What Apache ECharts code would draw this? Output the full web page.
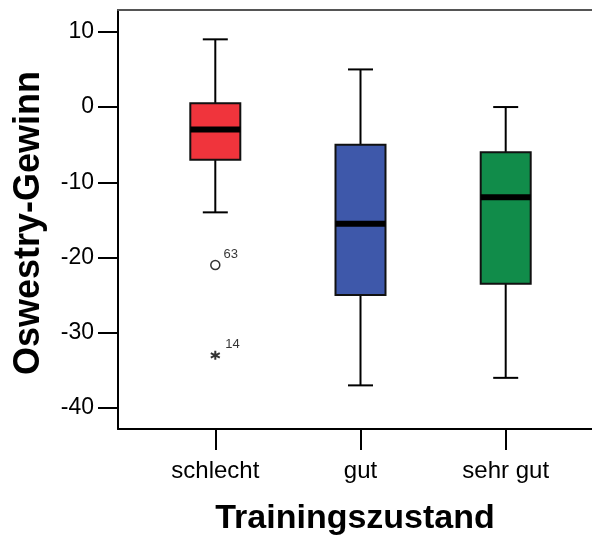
<!DOCTYPE html>
<html>
<head>
<meta charset="utf-8">
<script src="https://cdn.jsdelivr.net/npm/echarts@6/dist/echarts.min.js"></script>
<style>html,body{margin:0;padding:0;background:#fff}#c{width:592px;height:535px}</style>
</head>
<body>
<div id="c"></div>
<script>
var categories = ['schlecht', 'gut', 'sehr gut'];
var whiskerLow = [-14, -37, -36];
var q1 = [-7, -25, -23.5];
var median = [-3, -15.5, -12];
var q3 = [0.5, -5, -6];
var whiskerHigh = [9, 5, 0];
var boxColors = ['#F0343C', '#3E58AA', '#118C4A'];
var yTicks = [-40, -30, -20, -10, 0, 10];
var outlierCat = ['schlecht', 'schlecht'];
var outlierVal = [-21, -33];
var outlierId = ['63', '14'];
var outlierKind = ['circle', 'star'];

var boxData = categories.map(function (c, i) {
  return [i, whiskerLow[i], q1[i], median[i], q3[i], whiskerHigh[i]];
});

var yMin = -42.8, yMax = 12.9;
var font = 'Liberation Sans, Arial, Helvetica, sans-serif';

function renderBox(params, api) {
  var x = api.value(0);
  var pLow = api.coord([x, api.value(1)]);
  var pQ1 = api.coord([x, api.value(2)]);
  var pMed = api.coord([x, api.value(3)]);
  var pQ3 = api.coord([x, api.value(4)]);
  var pHigh = api.coord([x, api.value(5)]);
  var cx = pMed[0];
  var bw = 50, cw = 25;
  var lineStyle = { stroke: '#000', lineWidth: 2 };
  return {
    type: 'group',
    children: [
      { type: 'line', shape: { x1: cx, y1: pHigh[1], x2: cx, y2: pQ3[1] }, style: lineStyle },
      { type: 'line', shape: { x1: cx, y1: pQ1[1], x2: cx, y2: pLow[1] }, style: lineStyle },
      { type: 'line', shape: { x1: cx - cw / 2, y1: pHigh[1], x2: cx + cw / 2, y2: pHigh[1] }, style: lineStyle },
      { type: 'line', shape: { x1: cx - cw / 2, y1: pLow[1], x2: cx + cw / 2, y2: pLow[1] }, style: lineStyle },
      { type: 'rect', shape: { x: cx - bw / 2, y: pQ3[1], width: bw, height: pQ1[1] - pQ3[1] },
        style: { fill: boxColors[params.dataIndex], stroke: '#111', lineWidth: 2 } },
      { type: 'line', shape: { x1: cx - bw / 2, y1: pMed[1], x2: cx + bw / 2, y2: pMed[1] },
        style: { stroke: '#000', lineWidth: 6 } }
    ]
  };
}

var circleData = [], starData = [];
outlierCat.forEach(function (c, i) {
  var d = { value: [c, outlierVal[i]], name: outlierId[i] };
  if (outlierKind[i] === 'circle') circleData.push(d); else starData.push(d);
});

var outlierLabel = {
  show: true, formatter: '{b}', position: 'right', offset: [-2, -11],
  fontSize: 13, color: '#000', fontFamily: font
};

var chart = echarts.init(document.getElementById('c'), null, { renderer: 'canvas' });
chart.setOption({
  animation: false,
  backgroundColor: '#fff',
  grid: [
    { left: 118, right: 0, top: 10, bottom: 106, outerBoundsMode: 'none', containLabel: false },
    { left: 142.7, right: 13.7, top: 10, bottom: 106, outerBoundsMode: 'none', containLabel: false }
  ],
  xAxis: [
    { type: 'value', gridIndex: 0, position: 'bottom', min: 0, max: 1,
      axisLine: { show: true, onZero: false, lineStyle: { color: '#000', width: 2 } },
      axisTick: { show: false }, axisLabel: { show: false }, splitLine: { show: false },
      name: 'Trainingszustand', nameLocation: 'middle', nameGap: 73,
      nameTextStyle: { fontSize: 34, fontWeight: 'bold', color: '#000', fontFamily: font } },
    { type: 'value', gridIndex: 0, position: 'top', min: 0, max: 1,
      axisLine: { show: true, onZero: false, lineStyle: { color: '#555', width: 2 } },
      axisTick: { show: false }, axisLabel: { show: false }, splitLine: { show: false } },
    { type: 'category', gridIndex: 1, data: categories, boundaryGap: true, position: 'bottom',
      axisLine: { show: false, onZero: false },
      axisTick: { show: true, alignWithLabel: true, length: 21, lineStyle: { color: '#000', width: 2 } },
      axisLabel: { fontSize: 24, color: '#000', margin: 30, fontFamily: font },
      splitLine: { show: false } }
  ],
  yAxis: [
    { type: 'value', gridIndex: 0, min: yMin, max: yMax,
      axisLine: { show: true, onZero: false, lineStyle: { color: '#000', width: 2 } },
      axisTick: { show: true, length: 20, customValues: yTicks, lineStyle: { color: '#000', width: 2 } },
      axisLabel: { customValues: yTicks, fontSize: 23, color: '#000', margin: 24, fontFamily: font },
      splitLine: { show: false },
      name: 'Oswestry-Gewinn', nameLocation: 'middle', nameGap: 71, nameRotate: 90,
      nameTextStyle: { fontSize: 36, fontWeight: 'bold', color: '#000', fontFamily: font, padding: [0, 7, 0, 0] } },
    { type: 'value', gridIndex: 1, min: yMin, max: yMax, show: false }
  ],
  series: [
    { type: 'custom', xAxisIndex: 2, yAxisIndex: 1, data: boxData, renderItem: renderBox,
      encode: { x: 0, y: [1, 2, 3, 4, 5] } },
    { type: 'scatter', xAxisIndex: 2, yAxisIndex: 1, data: circleData,
      symbol: 'circle', symbolSize: 9,
      itemStyle: { color: '#fff', borderColor: '#000', borderWidth: 1.5 },
      label: outlierLabel },
    { type: 'scatter', xAxisIndex: 2, yAxisIndex: 1, data: starData,
      symbol: 'path://M0,-10L0,10M-8.66,-5L8.66,5M-8.66,5L8.66,-5', symbolSize: 9,
      itemStyle: { color: 'none', borderColor: '#000', borderWidth: 2 },
      label: outlierLabel }
  ]
});
</script>
</body>
</html>
